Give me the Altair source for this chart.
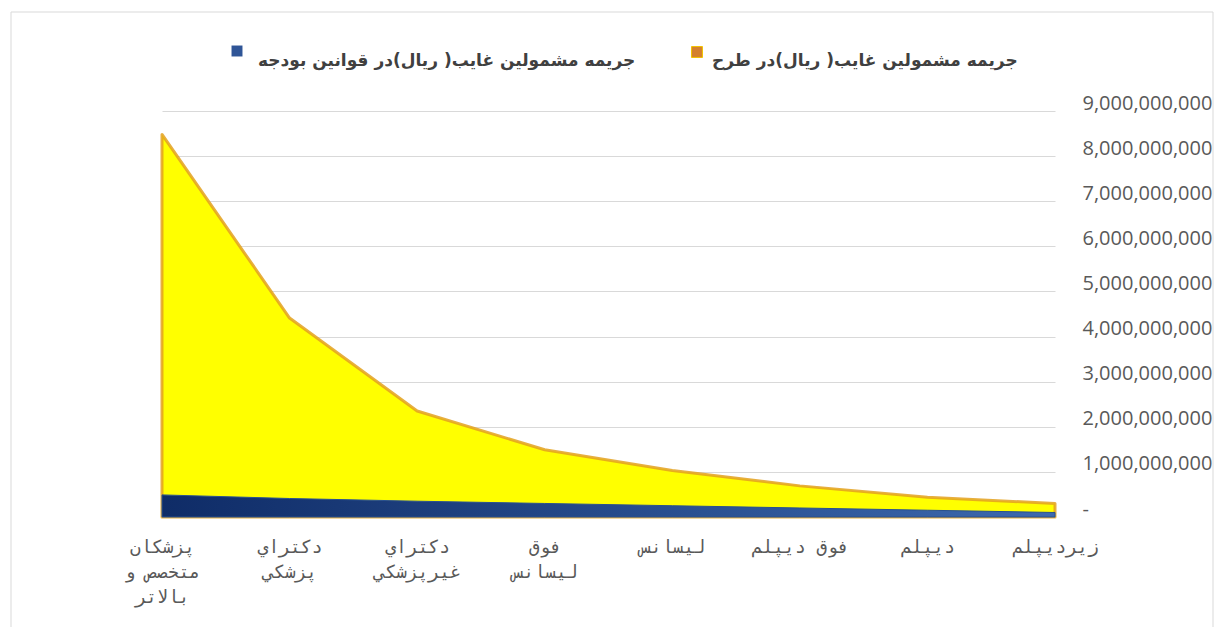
import altair as alt
import pandas as pd

categories = ["پزشکان|متخصص و|بالاتر", "دکتراي|پزشکي", "دکتراي|غیرپزشکي", "فوق|لیسانس",
              "لیسانس", "فوق دیپلم", "دیپلم", "زیردیپلم"]
tarh = [8.48e9, 4.41e9, 2.35e9, 1.49e9, 1.03e9, 0.69e9, 0.44e9, 0.30e9]
budget = [0.49e9, 0.41e9, 0.35e9, 0.30e9, 0.25e9, 0.20e9, 0.15e9, 0.10e9]
series_names = ["جریمه مشمولین غایب( ریال)در طرح", "جریمه مشمولین غایب( ریال)در قوانین بودجه"]
y_ticks = [0, 1e9, 2e9, 3e9, 4e9, 5e9, 6e9, 7e9, 8e9, 9e9]

df = pd.DataFrame({"cat": categories, "tarh": tarh, "budget": budget})

W, H = 893, 406

x_enc = alt.X("cat:N", sort=categories, scale=alt.Scale(type="point", padding=0),
              axis=alt.Axis(title="", labelExpr="split(datum.label, '|')", labelAngle=0,
                            labelOverlap=False, domain=False, ticks=False, labelPadding=21,
                            labelFont="DejaVu Sans Mono", labelFontSize=18, labelLineHeight=25,
                            labelColor="#595959", labelBaseline="top", grid=False))
y_axis = alt.Axis(title="", orient="right", values=y_ticks,
                  labelExpr="datum.value == 0 ? '-' : format(datum.value, ',')",
                  grid=True, gridColor="#d9d9d9", gridWidth=1, domain=False, ticks=False,
                  labelPadding=27, labelFont="Open Sans", labelFontSize=20,
                  labelColor="#595959", labelOffset=-8)
y_scale = alt.Scale(domain=[0, 9e9], nice=False)

yellow = alt.Chart(df).mark_area(
    fill="#FFFF00", stroke="#E3A11E", strokeWidth=3, strokeOpacity=0.85, strokeJoin="round"
).encode(x=x_enc, y=alt.Y("tarh:Q", scale=y_scale, axis=y_axis, stack=None))

blue_grad = alt.Gradient(gradient="linear",
                         stops=[alt.GradientStop(offset=0, color="#0F2C67"),
                                alt.GradientStop(offset=1, color="#3D69AE")],
                         x1=0, x2=1, y1=0, y2=0)
blue = alt.Chart(df).mark_area(fill=blue_grad, stroke="#29508F", strokeWidth=1).encode(
    x=x_enc, y=alt.Y("budget:Q", scale=y_scale, axis=y_axis, stack=None))

one = pd.DataFrame({"k": [0]})

frame = alt.Chart(one).mark_rect(fill="transparent", stroke="#d9d9d9", strokeWidth=1).encode(
    x=alt.value(-151), x2=alt.value(1051), y=alt.value(-99), y2=alt.value(540))

leg_sq_orange = alt.Chart(one).mark_square(size=120, fill="#D4802E", stroke="#F2C200",
                                           strokeWidth=1, opacity=1).encode(
    x=alt.value(535), y=alt.value(-59))
leg_sq_blue = alt.Chart(one).mark_square(size=120, fill="#2F5597", opacity=1).encode(
    x=alt.value(75), y=alt.value(-60))
leg_txt_orange = alt.Chart(one).mark_text(align="left", baseline="middle", font="DejaVu Sans",
                                          fontWeight="bold", fontSize=17, color="#404040").encode(
    x=alt.value(550), y=alt.value(-50), text=alt.value(series_names[0]))
leg_txt_blue = alt.Chart(one).mark_text(align="left", baseline="middle", font="DejaVu Sans",
                                        fontWeight="bold", fontSize=17, color="#404040").encode(
    x=alt.value(96), y=alt.value(-50), text=alt.value(series_names[1]))

chart = alt.layer(frame, yellow, blue, leg_sq_orange, leg_sq_blue, leg_txt_orange, leg_txt_blue).properties(
    width=W, height=H,
    autosize=alt.AutoSizeParams(type="none"),
    padding={"left": 154, "top": 103, "right": 160, "bottom": 110},
    background="white",
).configure_view(strokeWidth=0)

chart.save("out.html", embed_options={"renderer": "svg", "actions": False})
